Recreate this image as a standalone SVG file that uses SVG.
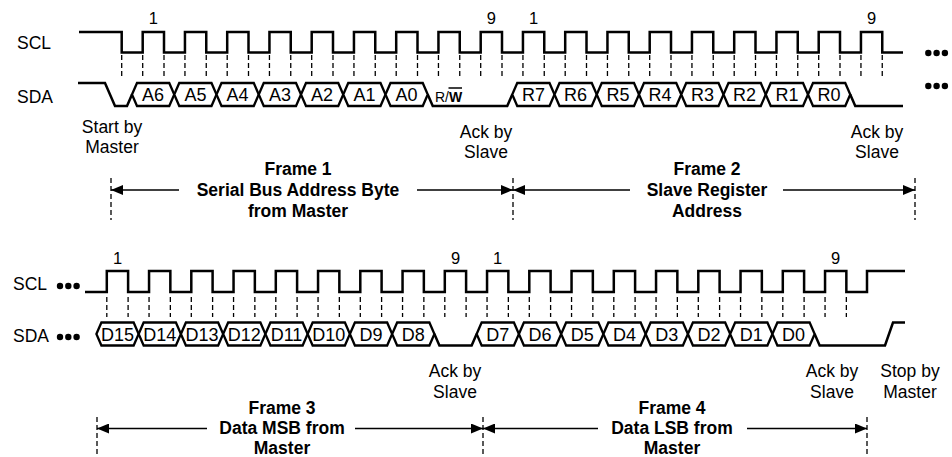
<svg xmlns="http://www.w3.org/2000/svg" width="952" height="457" viewBox="0 0 952 457">
<style>
text{font-family:"Liberation Sans",Arial,sans-serif;fill:#000}
.lb{font-size:17.5px}
.bd{font-size:17.5px;font-weight:bold}
.ctr{text-anchor:middle}
.num{font-size:16.5px;text-anchor:middle}
.hl{font-size:18px;text-anchor:middle}
.sig{fill:none;stroke:#000;stroke-width:2.5;stroke-linejoin:miter}
.hex{fill:#fff;stroke:#000;stroke-width:2.3;stroke-linejoin:miter}
.dash{fill:none;stroke:#000;stroke-width:1.3;stroke-dasharray:5 3}
.arr{fill:none;stroke:#000;stroke-width:1.5;marker-end:url(#ah)}
</style>
<defs>
<marker id="ah" viewBox="0 0 12 10" refX="12" refY="5" markerWidth="12" markerHeight="10" markerUnits="userSpaceOnUse" orient="auto"><path d="M0,0 L12,5 L0,10 Z" fill="#000"/></marker>
<path id="hx" d="M0,0 L5,-11.5 H37.25 L42.25,0 L37.25,11.5 H5 Z"/>
<g id="dots"><circle cx="0" cy="0" r="3.2"/><circle cx="8.3" cy="0" r="3.2"/><circle cx="16.6" cy="0" r="3.2"/></g>
</defs>

<g id="labels">
<text class="lb" x="17" y="49">SCL</text>
<text class="lb" x="17" y="103">SDA</text>
<text class="lb" x="13" y="290">SCL</text>
<text class="lb" x="13" y="342">SDA</text>
<use href="#dots" x="928.3" y="53"/>
<use href="#dots" x="928.3" y="86"/>
<use href="#dots" x="60" y="286"/>
<use href="#dots" x="60" y="337"/>
<text class="num" x="153.3" y="24">1</text>
<text class="num" x="491.3" y="24">9</text>
<text class="num" x="533.6" y="24">1</text>
<text class="num" x="871.6" y="24">9</text>
<text class="num" x="117.5" y="264">1</text>
<text class="num" x="455.5" y="264">9</text>
<text class="num" x="497.7" y="264">1</text>
<text class="num" x="835.7" y="264">9</text>
</g>

<g id="top-scl">
<path class="sig" d="M79,32 H121.7 V52.5 H142.7 V32 H164 V52.5 H184.95 V32 H206.25 V52.5 H227.2 V32 H248.5 V52.5 H269.45 V32 H290.75 V52.5 H311.7 V32 H333 V52.5 H353.95 V32 H375.25 V52.5 H396.2 V32 H417.5 V52.5 H438.45 V32 H459.75 V52.5 H480.7 V32 H502 V52.5 H522.95 V32 H544.25 V52.5 H565.2 V32 H586.5 V52.5 H607.45 V32 H628.75 V52.5 H649.7 V32 H671 V52.5 H691.95 V32 H713.25 V52.5 H734.2 V32 H755.5 V52.5 H776.45 V32 H797.75 V52.5 H818.7 V32 H840 V52.5 H860.95 V32 H882.25 V52.5 H903"/>
<path class="dash" d="M121.7,55V77 M142.7,55V77 M164,55V77 M184.95,55V77 M206.25,55V77 M227.2,55V77 M248.5,55V77 M269.45,55V77 M290.75,55V77 M311.7,55V77 M333,55V77 M353.95,55V77 M375.25,55V77 M396.2,55V77 M417.5,55V77 M438.45,55V77 M459.75,55V77 M480.7,55V77 M502,55V77 M522.95,55V77 M544.25,55V77 M565.2,55V77 M586.5,55V77 M607.45,55V77 M628.75,55V77 M649.7,55V77 M671,55V77 M691.95,55V77 M713.25,55V77 M734.2,55V77 M755.5,55V77 M776.45,55V77 M797.75,55V77 M818.7,55V77 M840,55V77 M860.95,55V77 M882.25,55V77"/>
</g>

<g id="top-sda">
<path class="sig" d="M78,83 H105 L115,106 H127 L132,94.5"/>
<path class="sig" d="M427.75,94.5 L432.75,106 H507.25 L512.25,94.5"/>
<path class="sig" d="M850.25,94.5 L855.25,106 H903"/>
<use href="#hx" class="hex" x="132" y="94.5"/>
<use href="#hx" class="hex" x="174.25" y="94.5"/>
<use href="#hx" class="hex" x="216.5" y="94.5"/>
<use href="#hx" class="hex" x="258.75" y="94.5"/>
<use href="#hx" class="hex" x="301" y="94.5"/>
<use href="#hx" class="hex" x="343.25" y="94.5"/>
<use href="#hx" class="hex" x="385.5" y="94.5"/>
<use href="#hx" class="hex" x="512.25" y="94.5"/>
<use href="#hx" class="hex" x="554.5" y="94.5"/>
<use href="#hx" class="hex" x="596.75" y="94.5"/>
<use href="#hx" class="hex" x="639" y="94.5"/>
<use href="#hx" class="hex" x="681.25" y="94.5"/>
<use href="#hx" class="hex" x="723.5" y="94.5"/>
<use href="#hx" class="hex" x="765.75" y="94.5"/>
<use href="#hx" class="hex" x="808" y="94.5"/>
<text class="hl" x="153.1" y="101">A6</text>
<text class="hl" x="195.4" y="101">A5</text>
<text class="hl" x="237.6" y="101">A4</text>
<text class="hl" x="279.9" y="101">A3</text>
<text class="hl" x="322.1" y="101">A2</text>
<text class="hl" x="364.4" y="101">A1</text>
<text class="hl" x="406.6" y="101">A0</text>
<text style="font-size:14px" x="435" y="101.7">R/<tspan font-weight="bold">W</tspan></text>
<line x1="448.5" y1="88" x2="462" y2="88" stroke="#000" stroke-width="1.5"/>
<text class="hl" x="533.4" y="101">R7</text>
<text class="hl" x="575.6" y="101">R6</text>
<text class="hl" x="617.9" y="101">R5</text>
<text class="hl" x="660.1" y="101">R4</text>
<text class="hl" x="702.4" y="101">R3</text>
<text class="hl" x="744.6" y="101">R2</text>
<text class="hl" x="786.9" y="101">R1</text>
<text class="hl" x="829.1" y="101">R0</text>
</g>

<g id="bottom-scl">
<path class="sig" d="M85,292 H106.8 V271 H128.1 V292 H149.05 V271 H170.35 V292 H191.3 V271 H212.6 V292 H233.55 V271 H254.85 V292 H275.8 V271 H297.1 V292 H318.05 V271 H339.35 V292 H360.3 V271 H381.6 V292 H402.55 V271 H423.85 V292 H444.8 V271 H466.1 V292 H487.05 V271 H508.35 V292 H529.3 V271 H550.6 V292 H571.55 V271 H592.85 V292 H613.8 V271 H635.1 V292 H656.05 V271 H677.35 V292 H698.3 V271 H719.6 V292 H740.55 V271 H761.85 V292 H782.8 V271 H804.1 V292 H825.05 V271 H846.35 V292 H867 V271 H905"/>
<path class="dash" d="M106.8,297V317 M128.1,297V317 M149.05,297V317 M170.35,297V317 M191.3,297V317 M212.6,297V317 M233.55,297V317 M254.85,297V317 M275.8,297V317 M297.1,297V317 M318.05,297V317 M339.35,297V317 M360.3,297V317 M381.6,297V317 M402.55,297V317 M423.85,297V317 M444.8,297V317 M466.1,297V317 M487.05,297V317 M508.35,297V317 M529.3,297V317 M550.6,297V317 M571.55,297V317 M592.85,297V317 M613.8,297V317 M635.1,297V317 M656.05,297V317 M677.35,297V317 M698.3,297V317 M719.6,297V317 M740.55,297V317 M761.85,297V317 M782.8,297V317 M804.1,297V317 M825.05,297V317 M846.35,297V317"/>
</g>

<g id="bottom-sda">
<path class="sig" d="M434.4,334 L439.4,345.5 H471.65 L476.65,334"/>
<path class="sig" d="M814.65,334 L819.65,345.5 H885 L893,322.5 H905"/>
<use href="#hx" class="hex" x="96.4" y="334"/>
<use href="#hx" class="hex" x="138.65" y="334"/>
<use href="#hx" class="hex" x="180.9" y="334"/>
<use href="#hx" class="hex" x="223.15" y="334"/>
<use href="#hx" class="hex" x="265.4" y="334"/>
<use href="#hx" class="hex" x="307.65" y="334"/>
<use href="#hx" class="hex" x="349.9" y="334"/>
<use href="#hx" class="hex" x="392.15" y="334"/>
<use href="#hx" class="hex" x="476.65" y="334"/>
<use href="#hx" class="hex" x="518.9" y="334"/>
<use href="#hx" class="hex" x="561.15" y="334"/>
<use href="#hx" class="hex" x="603.4" y="334"/>
<use href="#hx" class="hex" x="645.65" y="334"/>
<use href="#hx" class="hex" x="687.9" y="334"/>
<use href="#hx" class="hex" x="730.15" y="334"/>
<use href="#hx" class="hex" x="772.4" y="334"/>
<text class="hl" x="117.5" y="340.5">D15</text>
<text class="hl" x="159.8" y="340.5">D14</text>
<text class="hl" x="202" y="340.5">D13</text>
<text class="hl" x="244.3" y="340.5">D12</text>
<text class="hl" x="286.5" y="340.5">D11</text>
<text class="hl" x="328.8" y="340.5">D10</text>
<text class="hl" x="371" y="340.5">D9</text>
<text class="hl" x="413.3" y="340.5">D8</text>
<text class="hl" x="497.8" y="340.5">D7</text>
<text class="hl" x="540" y="340.5">D6</text>
<text class="hl" x="582.3" y="340.5">D5</text>
<text class="hl" x="624.5" y="340.5">D4</text>
<text class="hl" x="666.8" y="340.5">D3</text>
<text class="hl" x="709" y="340.5">D2</text>
<text class="hl" x="751.3" y="340.5">D1</text>
<text class="hl" x="793.5" y="340.5">D0</text>
</g>

<g id="annotations">
<text class="lb ctr" x="112" y="133">Start by</text>
<text class="lb ctr" x="112" y="153.3">Master</text>
<text class="lb ctr" x="486" y="137.5">Ack by</text>
<text class="lb ctr" x="486" y="158">Slave</text>
<text class="lb ctr" x="877" y="137.5">Ack by</text>
<text class="lb ctr" x="877" y="158">Slave</text>
<text class="lb ctr" x="455" y="377">Ack by</text>
<text class="lb ctr" x="455" y="397.5">Slave</text>
<text class="lb ctr" x="832" y="377">Ack by</text>
<text class="lb ctr" x="832" y="397.5">Slave</text>
<text class="lb ctr" x="910" y="377">Stop by</text>
<text class="lb ctr" x="910" y="397.5">Master</text>
</g>

<g id="frame1">
<text class="bd ctr" x="298" y="175">Frame 1</text>
<text class="bd ctr" x="298" y="196">Serial Bus Address Byte</text>
<text class="bd ctr" x="298" y="216.5">from Master</text>
</g>
<g id="frame2">
<text class="bd ctr" x="707" y="175">Frame 2</text>
<text class="bd ctr" x="707" y="196">Slave Register</text>
<text class="bd ctr" x="707" y="216.5">Address</text>
</g>
<g id="frame3">
<text class="bd ctr" x="282" y="413.5">Frame 3</text>
<text class="bd ctr" x="282" y="433.7">Data MSB from</text>
<text class="bd ctr" x="282" y="454.2">Master</text>
</g>
<g id="frame4">
<text class="bd ctr" x="672" y="413.5">Frame 4</text>
<text class="bd ctr" x="672" y="433.7">Data LSB from</text>
<text class="bd ctr" x="672" y="454.2">Master</text>
</g>

<g id="connectors">
<path class="dash" d="M111,178V220 M513,178V220 M915,178V220 M97,417V457 M483,417V457 M867,417V457"/>
<line class="arr" x1="179" y1="190" x2="111" y2="190"/>
<line class="arr" x1="417" y1="190" x2="513" y2="190"/>
<line class="arr" x1="630" y1="190" x2="513" y2="190"/>
<line class="arr" x1="783" y1="190" x2="915" y2="190"/>
<line class="arr" x1="207" y1="428.5" x2="97" y2="428.5"/>
<line class="arr" x1="355" y1="428.5" x2="483" y2="428.5"/>
<line class="arr" x1="598" y1="428.5" x2="483" y2="428.5"/>
<line class="arr" x1="747" y1="428.5" x2="867" y2="428.5"/>
</g>
</svg>
